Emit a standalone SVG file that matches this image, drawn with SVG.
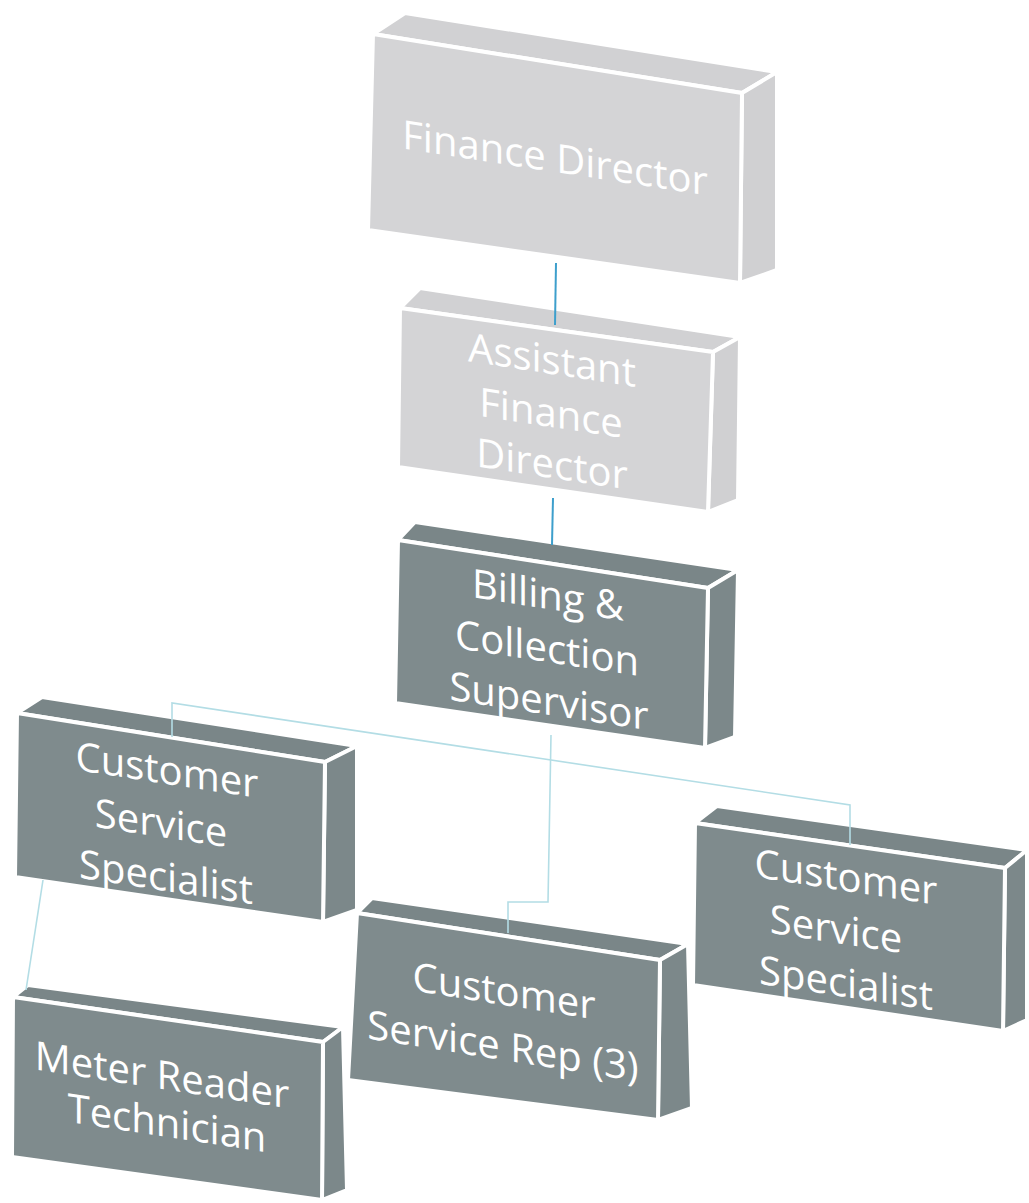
<svg xmlns="http://www.w3.org/2000/svg" width="1029" height="1203" viewBox="0 0 1029 1203">
<style>
.light polygon{fill:#d4d4d6;stroke:#ffffff;stroke-width:4;stroke-linejoin:round}
.light .top{fill:#d1d1d3}
.light .side{fill:#d0d0d2}
.dark polygon{fill:#7f8b8d;stroke:#ffffff;stroke-width:4;stroke-linejoin:round}
.dark .top{fill:#7a8688}
.dark .side{fill:#7c888a}
text{font-family:"Open Sans","Liberation Sans",sans-serif;font-size:40px;fill:#ffffff;text-anchor:middle}
.c1{stroke:#3d9fcc;stroke-width:2;fill:none}
.c2{stroke:#b3dde5;stroke-width:1.6;fill:none}
</style>
<rect width="1029" height="1203" fill="#ffffff"/>

<g id="finance-director" class="light">
<polygon class="top" points="373,34 405,13 777,72 742,93"/>
<polygon class="side" points="742,93 777,72 777,270 740,283"/>
<polygon class="front" points="373,34 742,93 740,283 368,230"/>
<text transform="translate(555,172) skewY(8.7)">Finance Director</text>
</g>

<g id="assistant-finance-director" class="light">
<polygon class="top" points="400,308 420,288 740,337 713,352"/>
<polygon class="side" points="713,352 740,337 738,500 708,512"/>
<polygon class="front" points="400,308 713,352 708,512 398,467"/>
<text transform="translate(552,374) skewY(8.7)">Assistant</text>
<text transform="translate(551,427) skewY(8.7)">Finance</text>
<text transform="translate(552,478) skewY(8.7)">Director</text>
</g>

<g id="billing-collection-supervisor" class="dark">
<polygon class="top" points="398,540 415,522 738,570 708,588"/>
<polygon class="side" points="708,588 738,570 735,737 705,748"/>
<polygon class="front" points="398,540 708,588 705,748 395,703"/>
<text transform="translate(548,609) skewY(8.7)">Billing &amp;</text>
<text transform="translate(547,662) skewY(8.7)">Collection</text>
<text transform="translate(549,715) skewY(8.7)">Supervisor</text>
</g>

<g id="customer-service-specialist-left" class="dark">
<polygon class="top" points="17,713 42,697 357,746 325,762"/>
<polygon class="side" points="325,762 357,746 357,910 323,922"/>
<polygon class="front" points="17,713 325,762 323,922 15,877"/>
<text transform="translate(167,784) skewY(8.7)">Customer</text>
<text transform="translate(161,837) skewY(8.7)">Service</text>
<text transform="translate(166,891) skewY(8.7)">Specialist</text>
</g>

<g id="customer-service-specialist-right" class="dark">
<polygon class="top" points="695,823 717,806 1027,850 1005,868"/>
<polygon class="side" points="1005,868 1027,850 1027,1020 1003,1031"/>
<polygon class="front" points="695,823 1005,868 1003,1031 693,985"/>
<text transform="translate(846,891) skewY(8.7)">Customer</text>
<text transform="translate(836,943) skewY(8.7)">Service</text>
<text transform="translate(846,997) skewY(8.7)">Specialist</text>
</g>

<g id="customer-service-rep" class="dark">
<polygon class="top" points="357,913 372,898 688,944 660,960"/>
<polygon class="side" points="660,960 688,944 692,1108 658,1120"/>
<polygon class="front" points="357,913 660,960 658,1120 348,1080"/>
<text transform="translate(504,1005) skewY(9)">Customer</text>
<text transform="translate(503,1060) skewY(9)">Service Rep (3)</text>
</g>

<g id="meter-reader-technician" class="dark">
<polygon class="top" points="13,997 28,985 343,1027 323,1042"/>
<polygon class="side" points="323,1042 343,1027 347,1190 322,1200"/>
<polygon class="front" points="13,997 323,1042 322,1200 12,1157"/>
<text transform="translate(162,1089) skewY(8.7)">Meter Reader</text>
<text transform="translate(167,1137) skewY(8.7)">Technician</text>
</g>

<g id="connectors">
<path class="c1" d="M556,263 L555,325"/>
<path class="c1" d="M553,498 L552,545"/>
<path class="c2" d="M172,737 L172,703 L850,805 L850,845"/>
<path class="c2" d="M551,735 L548,902 L508,902 L508,933"/>
<path class="c2" d="M43,880 L26,990"/>
</g>
</svg>
